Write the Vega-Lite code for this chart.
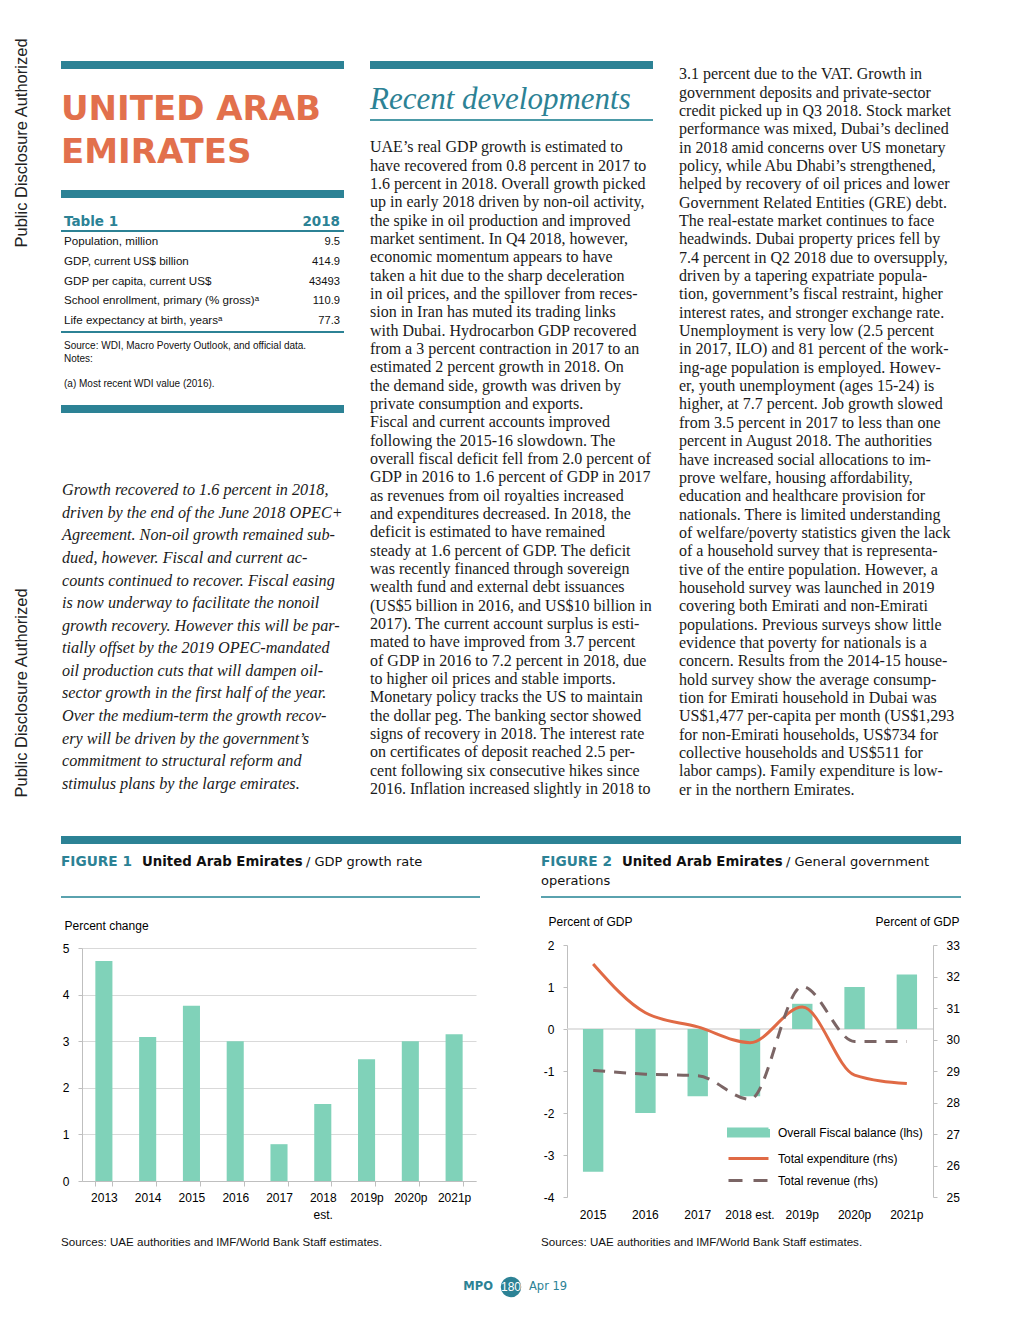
{
  "$schema": "https://vega.github.io/schema/vega-lite/v6.json",
  "background": "white",
  "padding": 0,
  "config": {
    "view": {"stroke": null},
    "concat": {"spacing": 0},
    "axis": {"labelFont": "Liberation Sans", "titleFont": "Liberation Sans", "labelColor": "#000", "titleColor": "#000", "labelFontSize": 12, "titleFontSize": 12, "titleFontWeight": "normal"}
  },
  "spacing": 17,
  "resolve": {"scale": {"color": "independent"}},
  "hconcat": [
    {
      "width": 44, "height": 836,
      "data": {"values": [{"ln": 1, "t": "Public Disclosure Authorized"}, {"ln": 2, "t": "Public Disclosure Authorized"}]},
      "mark": {"type": "text", "angle": 270, "align": "center", "baseline": "middle", "font": "Liberation Sans", "fontSize": 16.5, "color": "#222"},
      "encoding": {
        "y": {"field": "ln", "type": "ordinal", "axis": null, "scale": {"padding": 0.26}},
        "x": {"datum": 0.5, "type": "quantitative", "scale": {"domain": [0, 1]}, "axis": null},
        "text": {"field": "t"}
      }
    },
    {
      "spacing": 0,
      "resolve": {"scale": {"color": "independent"}},
      "vconcat": [
        {
          "spacing": 26,
          "hconcat": [
            {
              "spacing": 0,
              "bounds": "flush",
              "vconcat": [
                {"width": 283, "height": 61, "data": {"values": []}, "mark": "point"},
                {"width": 283, "height": 8, "data": {"values": []}, "mark": "point", "view": {"fill": "#2C8295", "stroke": null}},
                {"width": 283, "height": 19, "data": {"values": []}, "mark": "point"},
                {
                  "width": 283, "height": 86,
                  "data": {"values": [{"ln": 1, "t": "UNITED ARAB"}, {"ln": 2, "t": "EMIRATES"}]},
                  "mark": {"type": "text", "align": "left", "baseline": "middle", "font": "DejaVu Sans", "fontWeight": "bold", "fontSize": 34, "color": "#E2704C"},
                  "encoding": {
                    "y": {"field": "ln", "type": "ordinal", "axis": null},
                    "x": {"datum": 0, "type": "quantitative", "scale": {"domain": [0, 1]}, "axis": null},
                    "text": {"field": "t"}
                  }
                },
                {"width": 283, "height": 16, "data": {"values": []}, "mark": "point"},
                {"width": 283, "height": 8, "data": {"values": []}, "mark": "point", "view": {"fill": "#2C8295", "stroke": null}},
                {"width": 283, "height": 15, "data": {"values": []}, "mark": "point"},
                {
                  "width": 283, "height": 17,
                  "data": {"values": [{"ln": 1, "l": "Table 1", "v": "2018"}]},
                  "encoding": {
                    "y": {"field": "ln", "type": "ordinal", "axis": null},
                    "x": {"datum": 0, "type": "quantitative", "scale": {"domain": [0, 1]}, "axis": null}
                  },
                  "layer": [
                    {"mark": {"type": "text", "align": "left", "baseline": "middle", "dx": 3, "font": "DejaVu Sans", "fontWeight": "bold", "fontSize": 13.5, "color": "#2C8295"}, "encoding": {"text": {"field": "l"}}},
                    {"mark": {"type": "text", "align": "right", "baseline": "middle", "dx": -4, "font": "DejaVu Sans", "fontWeight": "bold", "fontSize": 13.5, "color": "#2C8295"}, "encoding": {"text": {"field": "v"}, "x": {"datum": 1, "type": "quantitative"}}}
                  ]
                },
                {"width": 283, "height": 2, "data": {"values": []}, "mark": "point", "view": {"fill": "#2C8295", "stroke": null}},
                {
                  "width": 283, "height": 99,
                  "data": {"values": [
                    {"ln": 1, "l": "Population, million", "v": "9.5"},
                    {"ln": 2, "l": "GDP, current US$ billion", "v": "414.9"},
                    {"ln": 3, "l": "GDP per capita, current US$", "v": "43493"},
                    {"ln": 4, "l": "School enrollment, primary (% gross)ᵃ", "v": "110.9"},
                    {"ln": 5, "l": "Life expectancy at birth, yearsᵃ", "v": "77.3"}
                  ]},
                  "encoding": {
                    "y": {"field": "ln", "type": "ordinal", "axis": null},
                    "x": {"datum": 0, "type": "quantitative", "scale": {"domain": [0, 1]}, "axis": null}
                  },
                  "layer": [
                    {"mark": {"type": "text", "align": "left", "baseline": "middle", "dx": 3, "font": "Liberation Sans", "fontSize": 11.6, "color": "#111"}, "encoding": {"text": {"field": "l"}}},
                    {"mark": {"type": "text", "align": "right", "baseline": "middle", "dx": -4, "font": "Liberation Sans", "fontSize": 11.2, "color": "#111"}, "encoding": {"text": {"field": "v"}, "x": {"datum": 1, "type": "quantitative"}}}
                  ]
                },
                {"width": 283, "height": 2, "data": {"values": []}, "mark": "point", "view": {"fill": "#2C8295", "stroke": null}},
                {"width": 283, "height": 7, "data": {"values": []}, "mark": "point"},
                {
                  "width": 283, "height": 50,
                  "data": {"values": [
                    {"ln": 1, "t": "Source: WDI, Macro Poverty Outlook, and official data."},
                    {"ln": 2, "t": "Notes:"},
                    {"ln": 3, "t": ""},
                    {"ln": 4, "t": "(a) Most recent WDI value (2016)."}
                  ]},
                  "mark": {"type": "text", "align": "left", "baseline": "middle", "dx": 3, "font": "Liberation Sans", "fontSize": 10, "color": "#111"},
                  "encoding": {
                    "y": {"field": "ln", "type": "ordinal", "axis": null},
                    "x": {"datum": 0, "type": "quantitative", "scale": {"domain": [0, 1]}, "axis": null},
                    "text": {"field": "t"}
                  }
                },
                {"width": 283, "height": 15, "data": {"values": []}, "mark": "point"},
                {"width": 283, "height": 8, "data": {"values": []}, "mark": "point", "view": {"fill": "#2C8295", "stroke": null}},
                {"width": 283, "height": 66, "data": {"values": []}, "mark": "point"},
                {
                  "width": 283, "height": 316,
                  "data": {"values": [
                    {"ln": 1, "t": "Growth recovered to 1.6 percent in 2018,"},
                    {"ln": 2, "t": "driven by the end of the June 2018 OPEC+"},
                    {"ln": 3, "t": "Agreement. Non-oil growth remained sub-"},
                    {"ln": 4, "t": "dued, however. Fiscal and current ac-"},
                    {"ln": 5, "t": "counts continued to recover. Fiscal easing"},
                    {"ln": 6, "t": "is now underway to facilitate the nonoil"},
                    {"ln": 7, "t": "growth recovery. However this will be par-"},
                    {"ln": 8, "t": "tially offset by the 2019 OPEC-mandated"},
                    {"ln": 9, "t": "oil production cuts that will dampen oil-"},
                    {"ln": 10, "t": "sector growth in the first half of the year."},
                    {"ln": 11, "t": "Over the medium-term the growth recov-"},
                    {"ln": 12, "t": "ery will be driven by the government’s"},
                    {"ln": 13, "t": "commitment to structural reform and"},
                    {"ln": 14, "t": "stimulus plans by the large emirates."}
                  ]},
                  "mark": {"type": "text", "align": "left", "baseline": "middle", "dx": 1, "font": "Liberation Serif", "fontStyle": "italic", "fontSize": 16.2, "color": "#1A1A1A"},
                  "encoding": {
                    "y": {"field": "ln", "type": "ordinal", "axis": null},
                    "x": {"datum": 0, "type": "quantitative", "scale": {"domain": [0, 1]}, "axis": null},
                    "text": {"field": "t"}
                  }
                }
              ]
            },
            {
              "spacing": 0,
              "bounds": "flush",
              "vconcat": [
                {"width": 283, "height": 61, "data": {"values": []}, "mark": "point"},
                {"width": 283, "height": 8, "data": {"values": []}, "mark": "point", "view": {"fill": "#2C8295", "stroke": null}},
                {"width": 283, "height": 12, "data": {"values": []}, "mark": "point"},
                {
                  "width": 283, "height": 38,
                  "data": {"values": [{"ln": 1, "t": "Recent developments"}]},
                  "mark": {"type": "text", "align": "left", "baseline": "middle", "font": "Liberation Serif", "fontStyle": "italic", "fontSize": 31, "color": "#2C8295"},
                  "encoding": {
                    "y": {"field": "ln", "type": "ordinal", "axis": null},
                    "x": {"datum": 0, "type": "quantitative", "scale": {"domain": [0, 1]}, "axis": null},
                    "text": {"field": "t"}
                  }
                },
                {"width": 283, "height": 2, "data": {"values": []}, "mark": "point", "view": {"fill": "#4C9AA7", "stroke": null}},
                {"width": 283, "height": 17, "data": {"values": []}, "mark": "point"},
                {
                  "width": 283, "height": 660,
                  "data": {"values": [
                    {"ln": 1, "t": "UAE’s real GDP growth is estimated to"},
                    {"ln": 2, "t": "have recovered from 0.8 percent in 2017 to"},
                    {"ln": 3, "t": "1.6 percent in 2018. Overall growth picked"},
                    {"ln": 4, "t": "up in early 2018 driven by non-oil activity,"},
                    {"ln": 5, "t": "the spike in oil production and improved"},
                    {"ln": 6, "t": "market sentiment. In Q4 2018, however,"},
                    {"ln": 7, "t": "economic momentum appears to have"},
                    {"ln": 8, "t": "taken a hit due to the sharp deceleration"},
                    {"ln": 9, "t": "in oil prices, and the spillover from reces-"},
                    {"ln": 10, "t": "sion in Iran has muted its trading links"},
                    {"ln": 11, "t": "with Dubai. Hydrocarbon GDP recovered"},
                    {"ln": 12, "t": "from a 3 percent contraction in 2017 to an"},
                    {"ln": 13, "t": "estimated 2 percent growth in 2018. On"},
                    {"ln": 14, "t": "the demand side, growth was driven by"},
                    {"ln": 15, "t": "private consumption and exports."},
                    {"ln": 16, "t": "Fiscal and current accounts improved"},
                    {"ln": 17, "t": "following the 2015-16 slowdown. The"},
                    {"ln": 18, "t": "overall fiscal deficit fell from 2.0 percent of"},
                    {"ln": 19, "t": "GDP in 2016 to 1.6 percent of GDP in 2017"},
                    {"ln": 20, "t": "as revenues from oil royalties increased"},
                    {"ln": 21, "t": "and expenditures decreased.  In 2018, the"},
                    {"ln": 22, "t": "deficit is estimated to have remained"},
                    {"ln": 23, "t": "steady at 1.6 percent of GDP. The deficit"},
                    {"ln": 24, "t": "was recently financed through sovereign"},
                    {"ln": 25, "t": "wealth fund and external debt issuances"},
                    {"ln": 26, "t": "(US$5 billion in 2016, and US$10 billion in"},
                    {"ln": 27, "t": "2017). The current account surplus is esti-"},
                    {"ln": 28, "t": "mated to have improved from 3.7 percent"},
                    {"ln": 29, "t": "of GDP in 2016 to 7.2 percent in 2018, due"},
                    {"ln": 30, "t": "to higher oil prices and stable imports."},
                    {"ln": 31, "t": "Monetary policy tracks the US to maintain"},
                    {"ln": 32, "t": "the dollar peg. The banking sector showed"},
                    {"ln": 33, "t": "signs of recovery in 2018. The interest rate"},
                    {"ln": 34, "t": "on certificates of deposit reached 2.5 per-"},
                    {"ln": 35, "t": "cent following six consecutive hikes since"},
                    {"ln": 36, "t": "2016. Inflation increased slightly in 2018 to"}
                  ]},
                  "mark": {"type": "text", "align": "left", "baseline": "middle", "font": "Liberation Serif", "fontSize": 16, "color": "#1A1A1A"},
                  "encoding": {
                    "y": {"field": "ln", "type": "ordinal", "axis": null},
                    "x": {"datum": 0, "type": "quantitative", "scale": {"domain": [0, 1]}, "axis": null},
                    "text": {"field": "t"}
                  }
                }
              ]
            },
            {
              "spacing": 0,
              "bounds": "flush",
              "vconcat": [
                {"width": 283, "height": 65, "data": {"values": []}, "mark": "point"},
                {
                  "width": 283, "height": 734,
                  "data": {"values": [
                    {"ln": 1, "t": "3.1 percent due to the VAT. Growth in"},
                    {"ln": 2, "t": "government deposits and private-sector"},
                    {"ln": 3, "t": "credit picked up in Q3 2018. Stock market"},
                    {"ln": 4, "t": "performance was mixed, Dubai’s declined"},
                    {"ln": 5, "t": "in 2018 amid concerns over US monetary"},
                    {"ln": 6, "t": "policy, while Abu Dhabi’s strengthened,"},
                    {"ln": 7, "t": "helped by recovery of oil prices and lower"},
                    {"ln": 8, "t": "Government Related Entities (GRE) debt."},
                    {"ln": 9, "t": "The real-estate market continues to face"},
                    {"ln": 10, "t": "headwinds. Dubai property prices fell by"},
                    {"ln": 11, "t": "7.4 percent in Q2 2018 due to oversupply,"},
                    {"ln": 12, "t": "driven by a tapering expatriate popula-"},
                    {"ln": 13, "t": "tion, government’s fiscal restraint, higher"},
                    {"ln": 14, "t": "interest rates, and stronger exchange rate."},
                    {"ln": 15, "t": "Unemployment is very low (2.5 percent"},
                    {"ln": 16, "t": "in 2017, ILO) and 81 percent of the work-"},
                    {"ln": 17, "t": "ing-age population is employed. Howev-"},
                    {"ln": 18, "t": "er, youth unemployment (ages 15-24) is"},
                    {"ln": 19, "t": "higher, at 7.7 percent. Job growth slowed"},
                    {"ln": 20, "t": "from 3.5 percent in 2017 to less than one"},
                    {"ln": 21, "t": "percent in August 2018. The authorities"},
                    {"ln": 22, "t": "have increased social allocations to im-"},
                    {"ln": 23, "t": "prove welfare, housing affordability,"},
                    {"ln": 24, "t": "education and healthcare provision for"},
                    {"ln": 25, "t": "nationals. There is limited understanding"},
                    {"ln": 26, "t": "of welfare/poverty statistics given the lack"},
                    {"ln": 27, "t": "of a household survey that is representa-"},
                    {"ln": 28, "t": "tive of the entire population. However, a"},
                    {"ln": 29, "t": "household survey was launched in 2019"},
                    {"ln": 30, "t": "covering both Emirati and non-Emirati"},
                    {"ln": 31, "t": "populations. Previous surveys show little"},
                    {"ln": 32, "t": "evidence that poverty for nationals is a"},
                    {"ln": 33, "t": "concern. Results from the 2014-15 house-"},
                    {"ln": 34, "t": "hold survey show the average consump-"},
                    {"ln": 35, "t": "tion for Emirati household in Dubai was"},
                    {"ln": 36, "t": "US$1,477 per-capita per month (US$1,293"},
                    {"ln": 37, "t": "for non-Emirati households, US$734 for"},
                    {"ln": 38, "t": "collective households and US$511 for"},
                    {"ln": 39, "t": "labor camps). Family expenditure is low-"},
                    {"ln": 40, "t": "er in the northern Emirates."}
                  ]},
                  "mark": {"type": "text", "align": "left", "baseline": "middle", "font": "Liberation Serif", "fontSize": 16, "color": "#1A1A1A"},
                  "encoding": {
                    "y": {"field": "ln", "type": "ordinal", "axis": null},
                    "x": {"datum": 0, "type": "quantitative", "scale": {"domain": [0, 1]}, "axis": null},
                    "text": {"field": "t"}
                  }
                },
                {"width": 283, "height": 37, "data": {"values": []}, "mark": "point"}
              ]
            }
          ]
        },
        {"width": 900, "height": 8, "data": {"values": []}, "mark": "point", "view": {"fill": "#2C8295", "stroke": null}},
        {
          "spacing": 61,
          "resolve": {"scale": {"color": "independent"}},
          "hconcat": [
            {
              "spacing": 0,
              "vconcat": [
                {
                  "width": 419, "height": 35,
                  "data": {"values": [
                    {"ln": 1, "seg": 1, "t": "FIGURE 1"},
                    {"ln": 1, "seg": 2, "t": "United Arab Emirates"},
                    {"ln": 1, "seg": 3, "t": "/ GDP growth rate"}
                  ]},
                  "encoding": {
                    "y": {"field": "ln", "type": "ordinal", "axis": null},
                    "x": {"datum": 0, "type": "quantitative", "scale": {"domain": [0, 1]}, "axis": null},
                    "text": {"field": "t"}
                  },
                  "layer": [
                    {"transform": [{"filter": "datum.seg === 1"}], "mark": {"type": "text", "align": "left", "baseline": "middle", "font": "DejaVu Sans", "fontWeight": "bold", "fontSize": 13.7, "color": "#2C8295"}},
                    {"transform": [{"filter": "datum.seg === 2"}], "mark": {"type": "text", "align": "left", "baseline": "middle", "dx": 81, "font": "DejaVu Sans", "fontWeight": "bold", "fontSize": 13.3, "color": "#111"}},
                    {"transform": [{"filter": "datum.seg === 3"}], "mark": {"type": "text", "align": "left", "baseline": "middle", "dx": 245, "font": "DejaVu Sans", "fontSize": 13, "color": "#111"}}
                  ]
                },
                {"width": 419, "height": 17, "data": {"values": []}, "mark": "point"},
                {"width": 419, "height": 2, "data": {"values": []}, "mark": "point", "view": {"fill": "#5AA2AE", "stroke": null}},
                {"width": 419, "height": 21, "data": {"values": []}, "mark": "point"},
                {
                  "spacing": 0,
                  "bounds": "flush",
                  "hconcat": [
                    {"width": 21, "height": 233, "data": {"values": []}, "mark": "point"},
                    {
                      "width": 394, "height": 233,
                      "data": {"values": [
                        {"year": "2013", "g": 4.72},
                        {"year": "2014", "g": 3.09},
                        {"year": "2015", "g": 3.76},
                        {"year": "2016", "g": 3.0},
                        {"year": "2017", "g": 0.79},
                        {"year": "2018 est.", "g": 1.65},
                        {"year": "2019p", "g": 2.61},
                        {"year": "2020p", "g": 3.0},
                        {"year": "2021p", "g": 3.15}
                      ]},
                      "mark": {"type": "bar", "color": "#80D2B9"},
                      "encoding": {
                        "x": {"field": "year", "type": "ordinal", "sort": null, "scale": {"paddingInner": 0.61, "paddingOuter": 0.305},
                          "axis": {"title": null, "labelAngle": 0, "tickBand": "extent", "tickSize": 5, "tickColor": "#BFBFBF", "domainColor": "#BFBFBF", "labelPadding": 6, "labelExpr": "split(datum.label, ' ')", "labelLineHeight": 17, "grid": false}},
                        "y": {"field": "g", "type": "quantitative", "scale": {"domain": [0, 5]},
                          "axis": {"title": "Percent change", "titleAngle": 0, "titleAlign": "left", "titleBaseline": "middle", "titleX": -18, "titleY": -23, "values": [0, 1, 2, 3, 4, 5], "grid": true, "gridColor": "#D9D9D9", "domainColor": "#BFBFBF", "tickColor": "#BFBFBF", "tickSize": 4, "labelPadding": 9}}
                      }
                    }
                  ]
                },
                {"width": 419, "height": 15, "data": {"values": []}, "mark": "point"},
                {
                  "width": 419, "height": 16,
                  "data": {"values": [{"ln": 1, "t": "Sources: UAE authorities and IMF/World Bank Staff estimates."}]},
                  "mark": {"type": "text", "align": "left", "baseline": "middle", "font": "Liberation Sans", "fontSize": 11.6, "color": "#111"},
                  "encoding": {
                    "y": {"field": "ln", "type": "ordinal", "axis": null},
                    "x": {"datum": 0, "type": "quantitative", "scale": {"domain": [0, 1]}, "axis": null},
                    "text": {"field": "t"}
                  }
                }
              ]
            },
            {
              "spacing": 0,
              "resolve": {"scale": {"color": "independent"}},
              "vconcat": [
                {"width": 420, "height": 8, "data": {"values": []}, "mark": "point"},
                {
                  "width": 420, "height": 38,
                  "data": {"values": [
                    {"ln": 1, "seg": 1, "t": "FIGURE 2"},
                    {"ln": 1, "seg": 2, "t": "United Arab Emirates"},
                    {"ln": 1, "seg": 3, "t": "/ General government"},
                    {"ln": 2, "seg": 4, "t": "operations"}
                  ]},
                  "encoding": {
                    "y": {"field": "ln", "type": "ordinal", "axis": null},
                    "x": {"datum": 0, "type": "quantitative", "scale": {"domain": [0, 1]}, "axis": null},
                    "text": {"field": "t"}
                  },
                  "layer": [
                    {"transform": [{"filter": "datum.seg === 1"}], "mark": {"type": "text", "align": "left", "baseline": "middle", "font": "DejaVu Sans", "fontWeight": "bold", "fontSize": 13.7, "color": "#2C8295"}},
                    {"transform": [{"filter": "datum.seg === 2"}], "mark": {"type": "text", "align": "left", "baseline": "middle", "dx": 81, "font": "DejaVu Sans", "fontWeight": "bold", "fontSize": 13.3, "color": "#111"}},
                    {"transform": [{"filter": "datum.seg === 3"}], "mark": {"type": "text", "align": "left", "baseline": "middle", "dx": 245, "font": "DejaVu Sans", "fontSize": 13, "color": "#111"}},
                    {"transform": [{"filter": "datum.seg === 4"}], "mark": {"type": "text", "align": "left", "baseline": "middle", "font": "DejaVu Sans", "fontSize": 13, "color": "#111"}}
                  ]
                },
                {"width": 420, "height": 6, "data": {"values": []}, "mark": "point"},
                {"width": 420, "height": 2, "data": {"values": []}, "mark": "point", "view": {"fill": "#5AA2AE", "stroke": null}},
                {"width": 420, "height": 17, "data": {"values": []}, "mark": "point"},
                {
                  "spacing": 0,
                  "bounds": "flush",
                  "resolve": {"scale": {"color": "independent"}},
                  "hconcat": [
                    {"width": 26, "height": 252, "data": {"values": []}, "mark": "point"},
                    {
                      "width": 366, "height": 252,
                      "layer": [
                        {
                          "layer": [
                            {
                              "data": {"values": [{"base": 0}]},
                              "mark": {"type": "rule", "color": "#D9D9D9", "strokeWidth": 1.5},
                              "encoding": {"y": {"field": "base", "type": "quantitative"}}
                            },
                            {
                              "data": {"values": [
                                {"year": "2015", "fb": -3.4, "s": "Overall Fiscal balance (lhs)"},
                                {"year": "2016", "fb": -2.0, "s": "Overall Fiscal balance (lhs)"},
                                {"year": "2017", "fb": -1.6, "s": "Overall Fiscal balance (lhs)"},
                                {"year": "2018 est.", "fb": -1.6, "s": "Overall Fiscal balance (lhs)"},
                                {"year": "2019p", "fb": 0.6, "s": "Overall Fiscal balance (lhs)"},
                                {"year": "2020p", "fb": 1.0, "s": "Overall Fiscal balance (lhs)"},
                                {"year": "2021p", "fb": 1.3, "s": "Overall Fiscal balance (lhs)"}
                              ]},
                              "mark": {"type": "bar"},
                              "encoding": {
                                "x": {"field": "year", "type": "ordinal", "sort": null, "scale": {"paddingInner": 0.61, "paddingOuter": 0.305},
                                  "axis": {"title": null, "labelAngle": 0, "domain": false, "ticks": false, "labelPadding": 12, "grid": false}},
                                "y": {"field": "fb", "type": "quantitative"},
                                "color": {"field": "s", "type": "nominal",
                                  "scale": {"domain": ["Overall Fiscal balance (lhs)", "Total expenditure (rhs)", "Total revenue (rhs)"], "range": ["#80D2B9", "#E06A45", "#7B6565"]},
                                  "legend": {"title": null, "orient": "bottom-right", "offset": 10, "padding": 0, "labelFont": "Liberation Sans", "labelFontSize": 12, "labelColor": "#000", "symbolSize": 256, "symbolStrokeWidth": 3, "labelOffset": 20, "rowPadding": 6,
                                    "encode": {"symbols": {"update": {
                                      "shape": {"signal": "datum.value === 'Overall Fiscal balance (lhs)' ? 'M-2.5,-0.45H2.5V0.45H-2.5Z' : 'M-2.5,0H2.5'"},
                                      "fill": {"signal": "datum.value === 'Overall Fiscal balance (lhs)' ? '#80D2B9' : 'transparent'"},
                                      "stroke": {"signal": "datum.value === 'Overall Fiscal balance (lhs)' ? 'transparent' : (datum.value === 'Total expenditure (rhs)' ? '#E06A45' : '#7B6565')"},
                                      "strokeDash": {"signal": "datum.value === 'Total revenue (rhs)' ? [14, 11] : [1, 0]"},
                                      "strokeWidth": {"value": 3},
                                      "opacity": {"value": 1}
                                    }}}}}
                              }
                            }
                          ],
                          "encoding": {
                            "y": {"type": "quantitative", "scale": {"domain": [-4, 2]},
                              "axis": {"title": "Percent of GDP", "titleAngle": 0, "titleAlign": "left", "titleBaseline": "middle", "titleX": -19, "titleY": -24, "values": [-4, -3, -2, -1, 0, 1, 2], "labelExpr": "replace(datum.label, '−', '-')", "grid": false, "domainColor": "#BFBFBF", "tickColor": "#BFBFBF", "tickSize": 4, "labelPadding": 9}}
                          }
                        },
                        {
                          "layer": [
                            {
                              "data": {"values": [
                                {"year": "2015", "v": 32.4, "s": "Total expenditure (rhs)"},
                                {"year": "2016", "v": 30.85, "s": "Total expenditure (rhs)"},
                                {"year": "2017", "v": 30.4, "s": "Total expenditure (rhs)"},
                                {"year": "2018 est.", "v": 29.9, "s": "Total expenditure (rhs)"},
                                {"year": "2019p", "v": 31.03, "s": "Total expenditure (rhs)"},
                                {"year": "2020p", "v": 28.87, "s": "Total expenditure (rhs)"},
                                {"year": "2021p", "v": 28.6, "s": "Total expenditure (rhs)"}
                              ]},
                              "mark": {"type": "line", "interpolate": "monotone", "strokeWidth": 3},
                              "encoding": {
                                "x": {"field": "year", "type": "ordinal", "sort": null, "scale": {"paddingInner": 0.61, "paddingOuter": 0.305},
                                  "axis": {"title": null, "labelAngle": 0, "domain": false, "ticks": false, "labelPadding": 12, "grid": false}},
                                "y": {"field": "v", "type": "quantitative"},
                                "color": {"field": "s", "type": "nominal", "scale": {"domain": ["Overall Fiscal balance (lhs)", "Total expenditure (rhs)", "Total revenue (rhs)"], "range": ["#80D2B9", "#E06A45", "#7B6565"]}}
                              }
                            },
                            {
                              "data": {"values": [
                                {"year": "2015", "v": 29.02, "s": "Total revenue (rhs)"},
                                {"year": "2016", "v": 28.9, "s": "Total revenue (rhs)"},
                                {"year": "2017", "v": 28.85, "s": "Total revenue (rhs)"},
                                {"year": "2018 est.", "v": 28.1, "s": "Total revenue (rhs)"},
                                {"year": "2019p", "v": 31.68, "s": "Total revenue (rhs)"},
                                {"year": "2020p", "v": 29.94, "s": "Total revenue (rhs)"},
                                {"year": "2021p", "v": 29.94, "s": "Total revenue (rhs)"}
                              ]},
                              "mark": {"type": "line", "interpolate": "monotone", "strokeWidth": 3, "strokeDash": [12, 9]},
                              "encoding": {
                                "x": {"field": "year", "type": "ordinal", "sort": null, "scale": {"paddingInner": 0.61, "paddingOuter": 0.305},
                                  "axis": {"title": null, "labelAngle": 0, "domain": false, "ticks": false, "labelPadding": 12, "grid": false}},
                                "y": {"field": "v", "type": "quantitative"},
                                "color": {"field": "s", "type": "nominal", "scale": {"domain": ["Overall Fiscal balance (lhs)", "Total expenditure (rhs)", "Total revenue (rhs)"], "range": ["#80D2B9", "#E06A45", "#7B6565"]}}
                              }
                            }
                          ],
                          "encoding": {
                            "y": {"type": "quantitative", "scale": {"domain": [25, 33]},
                              "axis": {"orient": "right", "title": "Percent of GDP", "titleAngle": 0, "titleAlign": "left", "titleBaseline": "middle", "titleX": -58, "titleY": -24, "values": [25, 26, 27, 28, 29, 30, 31, 32, 33], "grid": false, "domainColor": "#BFBFBF", "tickColor": "#BFBFBF", "tickSize": 4, "labelPadding": 9}}
                          }
                        }
                      ],
                      "resolve": {"scale": {"y": "independent"}}
                    }
                  ]
                },
                {"width": 420, "height": 15, "data": {"values": []}, "mark": "point"},
                {
                  "width": 420, "height": 16,
                  "data": {"values": [{"ln": 1, "t": "Sources: UAE authorities and IMF/World Bank Staff estimates."}]},
                  "mark": {"type": "text", "align": "left", "baseline": "middle", "font": "Liberation Sans", "fontSize": 11.6, "color": "#111"},
                  "encoding": {
                    "y": {"field": "ln", "type": "ordinal", "axis": null},
                    "x": {"datum": 0, "type": "quantitative", "scale": {"domain": [0, 1]}, "axis": null},
                    "text": {"field": "t"}
                  }
                }
              ]
            }
          ]
        },
        {"width": 900, "height": 24, "data": {"values": []}, "mark": "point"},
        {
          "width": 900, "height": 24,
          "data": {"values": [{"ln": 1, "a": "MPO", "p": "180", "d": "Apr 19"}]},
          "encoding": {
            "y": {"field": "ln", "type": "ordinal", "axis": null},
            "x": {"datum": 0.5, "type": "quantitative", "scale": {"domain": [0, 1]}, "axis": null}
          },
          "layer": [
            {"mark": {"type": "circle", "size": 420, "color": "#2C8295", "opacity": 1}},
            {"mark": {"type": "text", "align": "center", "baseline": "middle", "font": "Liberation Sans", "fontSize": 12, "color": "white"}, "encoding": {"text": {"field": "p"}}},
            {"mark": {"type": "text", "align": "right", "baseline": "middle", "dx": -18, "font": "DejaVu Sans", "fontWeight": "bold", "fontSize": 11.5, "color": "#2C8295"}, "encoding": {"text": {"field": "a"}}},
            {"mark": {"type": "text", "align": "left", "baseline": "middle", "dx": 18, "font": "DejaVu Sans", "fontSize": 11.5, "color": "#2C8295"}, "encoding": {"text": {"field": "d"}}}
          ]
        }
      ]
    }
  ]
}
